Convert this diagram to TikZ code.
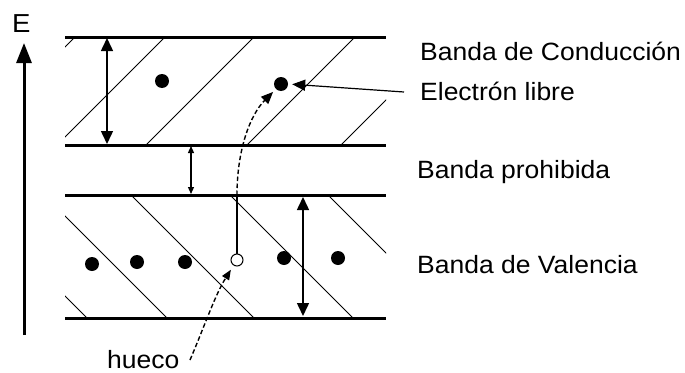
\documentclass[tikz,border=0pt]{standalone}
\usepackage{fontspec}
\setmainfont{Liberation Sans}[FakeStretch=1.06]
\usetikzlibrary{arrows.meta}
\begin{document}
\begin{tikzpicture}[x=1pt,y=-1pt,
  band/.style={line width=3pt},
  hatch/.style={line width=0.8pt},
  bigdbl/.style={line width=1.5pt,{Triangle[length=13pt,width=12pt]}-{Triangle[length=13pt,width=12pt]}},
  smalldbl/.style={line width=1.2pt,{Triangle[length=7pt,width=6pt]}-{Triangle[length=7pt,width=6pt]}},
  lbl/.style={font=\fontsize{25}{25}\selectfont,anchor=base west,inner sep=0pt},
  dot/.style={circle,fill=black,inner sep=0pt,minimum size=14pt},
  holec/.style={circle,draw=black,fill=white,line width=1pt,inner sep=0pt,minimum size=12pt},
  dashline/.style={dash pattern=on 4.5pt off 2.5pt,line width=1.4pt}
]
\useasboundingbox (0,0) rectangle (685,372);
\fill[white] (0,0) rectangle (685,372);

% hatching
\begin{scope}
\clip (65,37) rectangle (386,145);
\foreach \c in {112,202,291,392,486}
  \draw[hatch] (\c-37,37) -- (\c-145,145);
\end{scope}
\begin{scope}
\clip (65,195) rectangle (386,318);
\foreach \c in {-231,-151,-64,35,133}
  \draw[hatch] (\c+195,195) -- (\c+318,318);
\end{scope}

% band edges
\draw[band] (65,37) -- (386,37);
\draw[band] (65,145) -- (386,145);
\draw[band] (65,195) -- (386,195);
\draw[band] (65,318) -- (386,318);

% energy axis
\coordinate (ebot) at (24,335);
\coordinate (etop) at (24,43);
\draw[line width=3pt,-{Triangle[length=20pt,width=15pt]}] (ebot) -- (etop);
\node[font=\fontsize{26}{26}\selectfont,anchor=base west,inner sep=0pt] (E) at (12,32) {E};

% double arrows
\coordinate (c1t) at (107,38); \coordinate (c1b) at (107,144);
\draw[bigdbl] (c1t) -- (c1b);
\coordinate (g1t) at (191,146); \coordinate (g1b) at (191,194);
\draw[smalldbl] (g1t) -- (g1b);
\coordinate (v1t) at (303,197); \coordinate (v1b) at (303,316);
\draw[bigdbl] (v1t) -- (v1b);

% dots
\node[dot] (e1) at (162,81) {};
\node[dot] (e2) at (281,84) {};
\node[dot] (v1) at (92,264) {};
\node[dot] (v2) at (137,262) {};
\node[dot] (v3) at (185,262) {};
\node[holec] (hole) at (237,260) {};
\node[dot] (v4) at (284,258) {};
\node[dot] (v5) at (338,258) {};

% electron jump
\coordinate (jump) at (237,195);
\draw[line width=1.2pt] (hole.north) -- (jump);
\draw[dashline,-{Triangle[length=12pt,width=10pt]},shorten >=4pt] (jump) .. controls (237,150) and (250,115) .. (e2.south west);

% labels
\node[lbl] (lc) at (420,60) {Banda de Conducción};
\node[lbl] (le) at (420,100) {Electrón libre};
\node[lbl] (lp) at (417,178) {Banda prohibida};
\node[lbl] (lv) at (417,273) {Banda de Valencia};
\node[lbl] (lh) at (107,368) {hueco};

\coordinate (lepoint) at (404,92);
\draw[line width=1.2pt,-{Triangle[length=13pt,width=11pt]},shorten >=4pt] (lepoint) -- (e2.east);

\coordinate (lhpoint) at (190,360);
\draw[dashline,-{Triangle[length=10pt,width=8pt]},shorten >=5pt] (lhpoint) .. controls (205,325) and (215,295) .. (hole);
\end{tikzpicture}
\end{document}
